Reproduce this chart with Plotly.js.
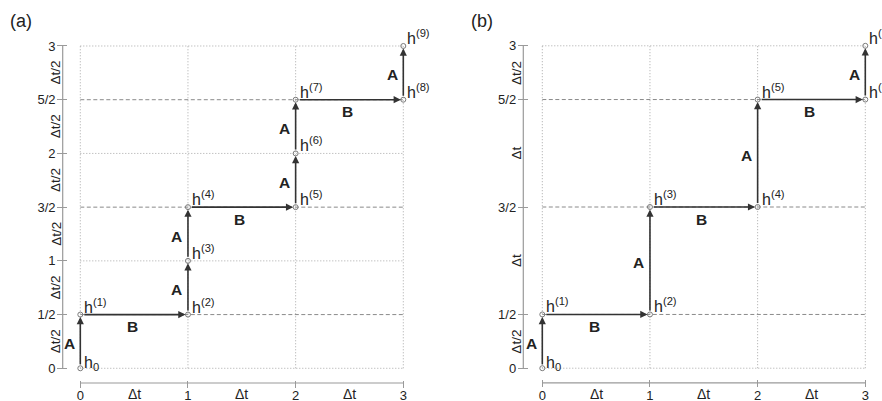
<!DOCTYPE html>
<html><head><meta charset="utf-8">
<script src="https://cdn.plot.ly/plotly-3.0.1.min.js"></script>
<style>html,body{margin:0;padding:0;background:#fff;} #chart{width:882px;height:401px;}</style>
</head><body><div id="chart"></div>
<script>
// ---------------- data ----------------
const panelLabels = ['(a)', '(b)'];
const xTickVals = [0, 1, 2, 3];
const xTickText = ['0', '1', '2', '3'];
const xIntervalLabels = ['Δt', 'Δt', 'Δt'];

const aNodeX = [0, 0, 1, 1, 1, 2, 2, 2, 3, 3];
const aNodeY = [0, 0.5, 0.5, 1, 1.5, 1.5, 2, 2.5, 2.5, 3];
const aNodeLabels = ['h<sub>0</sub>', 'h<sup>(1)</sup>', 'h<sup>(2)</sup>', 'h<sup>(3)</sup>', 'h<sup>(4)</sup>',
                     'h<sup>(5)</sup>', 'h<sup>(6)</sup>', 'h<sup>(7)</sup>', 'h<sup>(8)</sup>', 'h<sup>(9)</sup>'];
const aStepLabels = ['A', 'B', 'A', 'A', 'B', 'A', 'A', 'B', 'A'];
const aYTickVals = [0, 0.5, 1, 1.5, 2, 2.5, 3];
const aYTickText = ['0', '1/2', '1', '3/2', '2', '5/2', '3'];
const aYIntervalLabels = ['Δt/2', 'Δt/2', 'Δt/2', 'Δt/2', 'Δt/2', 'Δt/2'];

const bNodeX = [0, 0, 1, 1, 2, 2, 3, 3];
const bNodeY = [0, 0.5, 0.5, 1.5, 1.5, 2.5, 2.5, 3];
const bNodeLabels = ['h<sub>0</sub>', 'h<sup>(1)</sup>', 'h<sup>(2)</sup>', 'h<sup>(3)</sup>',
                     'h<sup>(4)</sup>', 'h<sup>(5)</sup>', 'h<sup>(6)</sup>', 'h<sup>(7)</sup>'];
const bStepLabels = ['A', 'B', 'A', 'B', 'A', 'B', 'A'];
const bYTickVals = [0, 0.5, 1.5, 2.5, 3];
const bYTickText = ['0', '1/2', '3/2', '5/2', '3'];
const bYIntervalLabels = ['Δt/2', 'Δt', 'Δt', 'Δt/2'];

// ---------------- geometry / style ----------------
const W = 882, H = 401;
const FONT = 'Arial, "Liberation Sans", sans-serif';
const TXT = '#222';
const AXC = '#9a9a9a';
const PAD = 0.1;

const panels = [
  {id: '', nodeX: aNodeX, nodeY: aNodeY, nodeLabels: aNodeLabels, steps: aStepLabels,
   yVals: aYTickVals, yText: aYTickText, yInt: aYIntervalLabels, label: panelLabels[0],
   x0px: 80.3, x3px: 403.3, y0px: 368.3, y3px: 46.0, yAxisPx: 62.7, xAxisPx: 383.0, titlePx: [21, 21]},
  {id: '2', nodeX: bNodeX, nodeY: bNodeY, nodeLabels: bNodeLabels, steps: bStepLabels,
   yVals: bYTickVals, yText: bYTickText, yInt: bYIntervalLabels, label: panelLabels[1],
   x0px: 542.3, x3px: 865.3, y0px: 368.2, y3px: 45.8, yAxisPx: 523.3, xAxisPx: 382.8, titlePx: [482, 21]}
];

const traces = [];
const shapes = [];
const annotations = [];
const layout = {
  width: W, height: H, margin: {l: 0, r: 0, t: 0, b: 0},
  paper_bgcolor: '#fff', plot_bgcolor: 'rgba(0,0,0,0)',
  showlegend: false, font: {family: FONT, color: TXT, size: 13}
};

panels.forEach(p => {
  const xr = 'x' + p.id, yr = 'y' + p.id;
  const ux = (p.x3px - p.x0px) / 3, uy = (p.y0px - p.y3px) / 3;
  const px = v => p.x0px + ux * v;
  const py = v => p.y0px - uy * v;

  layout['xaxis' + p.id] = {
    range: [-PAD, 3 + PAD], domain: [px(-PAD) / W, px(3 + PAD) / W],
    anchor: 'free', position: 1 - (p.xAxisPx - 3.5) / H,
    tickmode: 'array', tickvals: xTickVals, ticktext: xTickText,
    ticks: 'outside', ticklen: 7, tickcolor: AXC, tickwidth: 1, ticklabelstandoff: -3,
    showline: false, showgrid: false, zeroline: false,
    tickfont: {family: FONT, size: 13, color: TXT}, fixedrange: true
  };
  layout['yaxis' + p.id] = {
    range: [-PAD, 3 + PAD], domain: [1 - py(-PAD) / H, 1 - py(3 + PAD) / H],
    anchor: 'free', position: (p.yAxisPx + 4.5) / W,
    tickmode: 'array', tickvals: p.yVals, ticktext: p.yText,
    ticks: 'outside', ticklen: 10, tickcolor: AXC, tickwidth: 1, ticklabelstandoff: -1,
    showline: false, showgrid: false, zeroline: false,
    tickfont: {family: FONT, size: 13, color: TXT}, fixedrange: true
  };

  // axis lines (span only 0..3)
  shapes.push({type: 'line', xref: 'paper', yref: yr, x0: p.yAxisPx / W, x1: p.yAxisPx / W, y0: 0, y1: 3,
               line: {color: AXC, width: 1.2}});
  shapes.push({type: 'line', xref: xr, yref: 'paper', x0: 0, x1: 3, y0: 1 - p.xAxisPx / H, y1: 1 - p.xAxisPx / H,
               line: {color: AXC, width: 1.2}});

  // grid
  xTickVals.forEach(v => shapes.push({type: 'line', xref: xr, yref: yr, x0: v, x1: v, y0: 0, y1: 3, layer: 'below',
    line: {color: '#a8a8a8', width: 1, dash: '1px,2px'}}));
  p.yVals.forEach(v => {
    const isInt = Number.isInteger(v);
    shapes.push({type: 'line', xref: xr, yref: yr, x0: 0, x1: 3, y0: v, y1: v, layer: 'below',
      line: isInt ? {color: '#a8a8a8', width: 1, dash: '1px,2px'} : {color: '#8a8a8a', width: 1, dash: '4px,2.5px'}});
  });

  // interval labels
  for (let i = 0; i < xTickVals.length - 1; i++) {
    annotations.push({xref: xr, yref: 'paper', x: (xTickVals[i] + xTickVals[i + 1]) / 2, y: 1 - 394 / H,
      text: xIntervalLabels[i], showarrow: false, xanchor: 'center', yanchor: 'middle',
      font: {family: FONT, size: 14, color: TXT}});
  }
  for (let i = 0; i < p.yVals.length - 1; i++) {
    annotations.push({xref: 'paper', yref: yr, x: (p.yAxisPx - 7) / W, y: (p.yVals[i] + p.yVals[i + 1]) / 2,
      text: p.yInt[i], showarrow: false, textangle: -90, xanchor: 'center', yanchor: 'middle',
      font: {family: FONT, size: 13.5, color: TXT}});
  }

  // arrows + step labels
  p.steps.forEach((s, i) => {
    const x0 = p.nodeX[i], y0 = p.nodeY[i], x1 = p.nodeX[i + 1], y1 = p.nodeY[i + 1];
    annotations.push({xref: xr, yref: yr, axref: xr, ayref: yr, x: x1, y: y1, ax: x0, ay: y0, text: '',
      showarrow: true, arrowhead: 2, arrowsize: 0.9, arrowwidth: 1.6, arrowcolor: '#333',
      standoff: 2.5, startstandoff: 2.5});
    const vertical = x0 === x1;
    annotations.push({xref: xr, yref: yr, x: (x0 + x1) / 2, y: (y0 + y1) / 2, text: '<b>' + s + '</b>',
      showarrow: false, xanchor: 'center', yanchor: 'middle',
      xshift: vertical ? -11 : -2, yshift: vertical ? -2 : -12,
      font: {family: FONT, size: 15.5, color: TXT}});
  });

  // node labels
  p.nodeLabels.forEach((t, i) => {
    annotations.push({xref: xr, yref: yr, x: p.nodeX[i], y: p.nodeY[i], text: t, showarrow: false,
      xanchor: 'left', yanchor: 'bottom', xshift: 2, yshift: t.indexOf('<sub>') >= 0 ? -7 : -3,
      font: {family: FONT, size: 16, color: TXT}});
  });

  // panel label
  annotations.push({xref: 'paper', yref: 'paper', x: p.titlePx[0] / W, y: 1 - p.titlePx[1] / H, text: p.label,
    showarrow: false, xanchor: 'center', yanchor: 'middle', font: {family: FONT, size: 18, color: TXT}});

  // node circles
  traces.push({type: 'scatter', mode: 'markers', x: p.nodeX, y: p.nodeY, xaxis: xr, yaxis: yr,
    marker: {symbol: 'circle-open', size: 5, color: '#7a7a7a', line: {width: 1, color: '#7a7a7a'}},
    cliponaxis: false, hoverinfo: 'skip'});
});

layout.shapes = shapes;
layout.annotations = annotations;
Plotly.newPlot('chart', traces, layout, {displayModeBar: false, staticPlot: true});
</script>
</body></html>
